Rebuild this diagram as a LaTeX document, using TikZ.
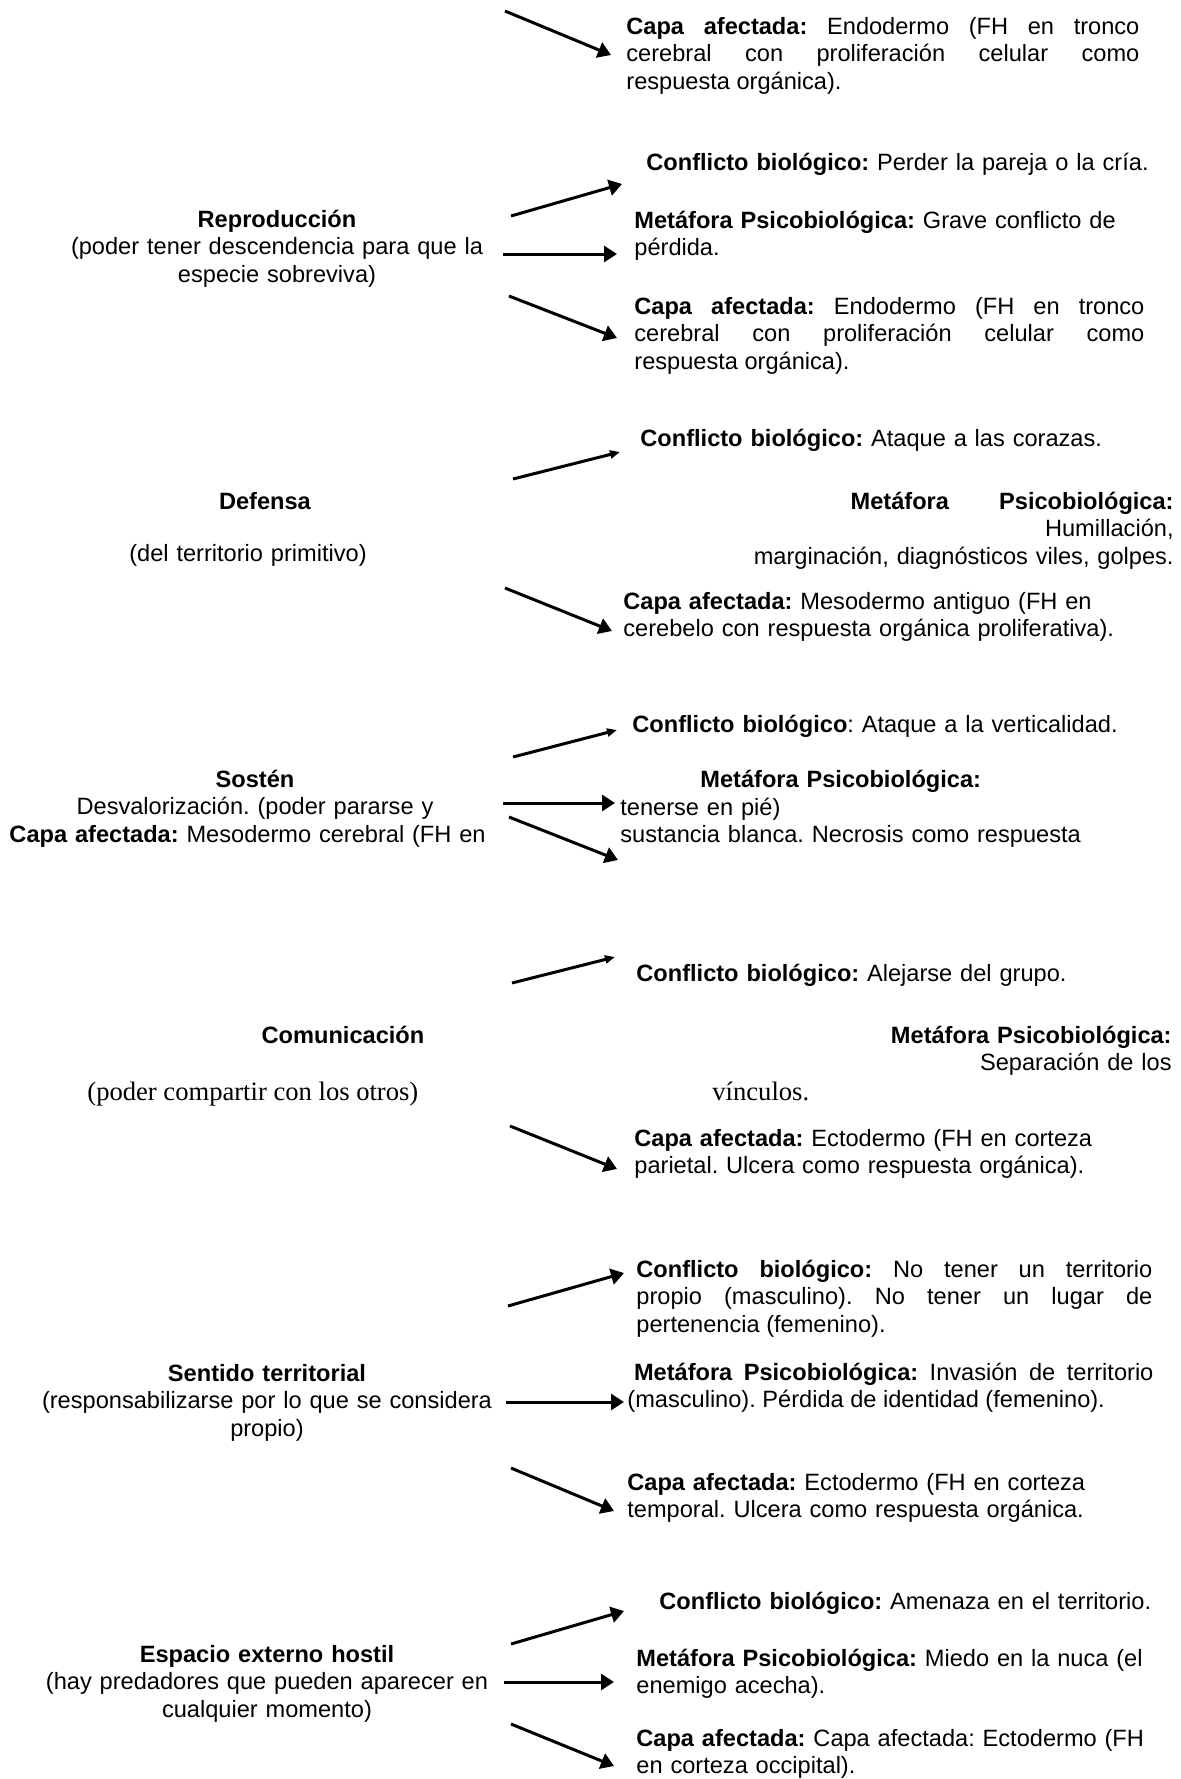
\documentclass[tikz,border=0pt]{standalone}
\usepackage{fontspec}
\setmainfont{Liberation Sans}
\newfontfamily\timesfont{Liberation Serif}
\usetikzlibrary{arrows.meta}
\hyphenpenalty=10000
\frenchspacing

\begin{document}
\begin{tikzpicture}[x=0.5pt,y=-0.5pt,
	every node/.style={inner sep=0pt,font=\fontsize{11.8}{13.9}\selectfont},
	serif note/.style={anchor=base west,font=\timesfont\fontsize{13.3}{15}\selectfont},
	topic/.style={anchor=base,align=center,text width=260pt},
	leaf/.style={anchor=base west,align=left,text width=280pt},
	right leaf/.style={anchor=base east,align=right,text width=240pt},
	justified leaf/.style={anchor=base west,align=justify,text width=#1},
	branch/.style={line width=1.5pt,-{Triangle[length=6.5pt,width=8pt]}},
	cut branch/.style={line width=1.5pt,-{Triangle[length=5pt,width=4pt]}}]
	\useasboundingbox (0,0) rectangle (1180,1779);

	% end of the previous block
	\node[justified leaf=256.5pt] (top capa) at (626,34) {\textbf{Capa afectada:} Endodermo (FH en tronco\linebreak cerebral con proliferación celular como\linebreak respuesta orgánica).};
	\coordinate (top-s) at (505,11); \coordinate (top-e) at (611,55);
	\draw[branch] (top-s) -- (top-e);

	% Reproduccion
	\node[topic] (repr) at (277,227) {\textbf{Reproducción}\\(poder tener descendencia para que la\\especie sobreviva)};
	\node[leaf] (repr conf) at (646,170) {\textbf{Conflicto biológico:} Perder la pareja o la cría.};
	\node[leaf] (repr meta) at (634,228) {\textbf{Metáfora Psicobiológica:} Grave conflicto de\\pérdida.};
	\node[justified leaf=255pt] (repr capa) at (634,314) {\textbf{Capa afectada:} Endodermo (FH en tronco\linebreak cerebral con proliferación celular como\linebreak respuesta orgánica).};
	\coordinate (repr-s1) at (511,216); \coordinate (repr-e1) at (622,184);
	\coordinate (repr-s2) at (503,254); \coordinate (repr-e2) at (617,254);
	\coordinate (repr-s3) at (509,296); \coordinate (repr-e3) at (617,338);
	\draw[branch] (repr-s1) -- (repr-e1);
	\draw[branch] (repr-s2) -- (repr-e2);
	\draw[branch] (repr-s3) -- (repr-e3);

	% Defensa
	\node[topic] (def) at (265,509) {\textbf{Defensa}};
	\node[topic] (def note) at (248,561) {(del territorio primitivo)};
	\node[leaf] (def conf) at (640,446) {\textbf{Conflicto biológico:} Ataque a las corazas.};
	\node[right leaf] (def meta) at (1174,509) {\textbf{Metáfora}\hspace{25pt}\textbf{Psicobiológica:}\\Humillación,\\marginación, diagnósticos viles, golpes.};
	\node[leaf] (def capa) at (623,609) {\textbf{Capa afectada:} Mesodermo antiguo (FH en\\cerebelo con respuesta orgánica proliferativa).};
	\coordinate (def-s1) at (513,479); \coordinate (def-e1) at (620,452);
	\coordinate (def-s3) at (505,588); \coordinate (def-e3) at (612,631);
	\draw[cut branch] (def-s1) -- (def-e1);
	\draw[branch] (def-s3) -- (def-e3);

	% Sosten
	\node[topic] (sos) at (255,787) {\textbf{Sostén}\\Desvalorización. (poder pararse y\\\makebox[245.5pt][s]{\textbf{Capa afectada:} Mesodermo cerebral (FH en}};
	\node[leaf] (sos conf) at (632,732) {\textbf{Conflicto biológico}: Ataque a la verticalidad.};
	\node[leaf] (sos meta) at (700,787) {\textbf{Metáfora Psicobiológica:}};
	\node[leaf] (sos rest) at (620,815) {tenerse en pié)\\sustancia blanca. Necrosis como respuesta};
	\coordinate (sos-s1) at (513,757); \coordinate (sos-e1) at (617,730);
	\coordinate (sos-s2) at (503,803); \coordinate (sos-e2) at (615,803);
	\coordinate (sos-s3) at (509,817); \coordinate (sos-e3) at (618,860);
	\draw[cut branch] (sos-s1) -- (sos-e1);
	\draw[branch] (sos-s2) -- (sos-e2);
	\draw[branch] (sos-s3) -- (sos-e3);

	% Comunicacion
	\node[topic] (com) at (343,1043) {\textbf{Comunicación}};
	\node[serif note] (com note) at (87,1100) {(poder compartir con los otros)};
	\node[leaf] (com conf) at (636,981) {\textbf{Conflicto biológico:} Alejarse del grupo.};
	\node[right leaf] (com meta) at (1172,1043) {\textbf{Metáfora Psicobiológica:}\\Separación de los};
	\node[serif note] (com meta end) at (712,1100) {vínculos.};
	\node[leaf] (com capa) at (634,1146) {\textbf{Capa afectada:} Ectodermo (FH en corteza\\parietal. Ulcera como respuesta orgánica).};
	\coordinate (com-s1) at (512,983); \coordinate (com-e1) at (615,957);
	\coordinate (com-s3) at (510,1126); \coordinate (com-e3) at (617,1169);
	\draw[cut branch] (com-s1) -- (com-e1);
	\draw[branch] (com-s3) -- (com-e3);

	% Sentido territorial
	\node[topic] (terr) at (267,1381) {\textbf{Sentido territorial}\\(responsabilizarse por lo que se considera\\propio)};
	\node[justified leaf=258pt] (terr conf) at (636,1277) {\textbf{Conflicto biológico:} No tener un territorio\linebreak propio (masculino). No tener un lugar de\linebreak pertenencia (femenino).};
	\node[justified leaf=263pt] (terr meta) at (627,1380) {\hspace*{3.3pt}\textbf{Metáfora Psicobiológica:} Invasión de territorio\linebreak (masculino). Pérdida de identidad (femenino).};
	\node[leaf] (terr capa) at (627,1490) {\textbf{Capa afectada:} Ectodermo (FH en corteza\\temporal. Ulcera como respuesta orgánica.};
	\coordinate (terr-s1) at (508,1306); \coordinate (terr-e1) at (624,1273);
	\coordinate (terr-s2) at (506,1402); \coordinate (terr-e2) at (624,1402);
	\coordinate (terr-s3) at (511,1468); \coordinate (terr-e3) at (614,1511);
	\draw[branch] (terr-s1) -- (terr-e1);
	\draw[branch] (terr-s2) -- (terr-e2);
	\draw[branch] (terr-s3) -- (terr-e3);

	% Espacio externo hostil
	\node[topic] (esp) at (267,1662) {\textbf{Espacio externo hostil}\\(hay predadores que pueden aparecer en\\cualquier momento)};
	\node[leaf] (esp conf) at (659,1609) {\textbf{Conflicto biológico:} Amenaza en el territorio.};
	\node[leaf] (esp meta) at (636,1666) {\textbf{Metáfora Psicobiológica:} Miedo en la nuca (el\\enemigo acecha).};
	\node[leaf] (esp capa) at (636,1746) {\textbf{Capa afectada:} Capa afectada: Ectodermo (FH\\en corteza occipital).};
	\coordinate (esp-s1) at (511,1644); \coordinate (esp-e1) at (624,1611);
	\coordinate (esp-s2) at (504,1682); \coordinate (esp-e2) at (614,1682);
	\coordinate (esp-s3) at (511,1724); \coordinate (esp-e3) at (614,1766);
	\draw[branch] (esp-s1) -- (esp-e1);
	\draw[branch] (esp-s2) -- (esp-e2);
	\draw[branch] (esp-s3) -- (esp-e3);
\end{tikzpicture}
\end{document}
